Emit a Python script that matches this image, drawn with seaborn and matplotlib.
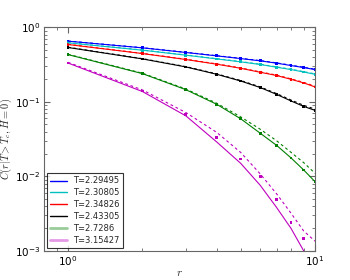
import numpy as np
import pandas as pd
import matplotlib
matplotlib.use("Agg")
import matplotlib.pyplot as plt
from matplotlib.lines import Line2D
import seaborn as sns

# distances
r = [1, 2, 3, 4, 5, 6, 7, 8, 9, 10]

temps = ["T=2.29495", "T=2.30805", "T=2.34826", "T=2.43305", "T=2.7286", "T=3.15427"]
colors = ["#0000ff", "#00bfbf", "#ff0000", "#000000", "#008000", "#bf00bf"]

# solid: fit
fit_229 = [0.654, 0.532, 0.461, 0.415, 0.382, 0.356, 0.331, 0.308, 0.289, 0.272]
fit_230 = [0.621, 0.495, 0.424, 0.378, 0.345, 0.318, 0.292, 0.272, 0.252, 0.235]
fit_234 = [0.590, 0.446, 0.371, 0.321, 0.283, 0.250, 0.226, 0.201, 0.180, 0.159]
fit_243 = [0.538, 0.378, 0.295, 0.235, 0.191, 0.156, 0.126, 0.103, 0.087, 0.077]
fit_272 = [0.432, 0.240, 0.146, 0.093, 0.0594, 0.038, 0.026, 0.0177, 0.0122, 0.0085]
fit_315 = [0.333, 0.138, 0.065, 0.029, 0.0150, 0.0076, 0.0038, 0.0020, 0.00100, 0.00045]

# dashed: approximation
dash_229 = [0.658, 0.535, 0.464, 0.418, 0.385, 0.359, 0.334, 0.311, 0.292, 0.275]
dash_230 = [0.625, 0.498, 0.427, 0.381, 0.348, 0.321, 0.295, 0.275, 0.255, 0.238]
dash_234 = [0.594, 0.449, 0.374, 0.324, 0.286, 0.253, 0.229, 0.204, 0.183, 0.162]
dash_243 = [0.542, 0.381, 0.298, 0.238, 0.194, 0.159, 0.129, 0.106, 0.090, 0.080]
dash_272 = [0.436, 0.243, 0.149, 0.096, 0.063, 0.043, 0.030, 0.021, 0.0153, 0.011]
dash_315 = [0.340, 0.145, 0.072, 0.039, 0.021, 0.0108, 0.0058, 0.0032, 0.00185, 0.00135]

# points: simulation data
pts_229 = [0.654, 0.532, 0.461, 0.415, 0.382, 0.356, 0.331, 0.308, 0.289, 0.272]
pts_230 = [0.621, 0.495, 0.424, 0.378, 0.345, 0.318, 0.292, 0.272, 0.252, 0.235]
pts_234 = [0.590, 0.446, 0.371, 0.321, 0.283, 0.250, 0.226, 0.201, 0.180, 0.159]
pts_243 = [0.538, 0.378, 0.295, 0.235, 0.191, 0.156, 0.126, 0.103, 0.087, 0.077]
pts_272 = [0.432, 0.240, 0.146, 0.093, 0.0594, 0.038, 0.026, 0.0177, 0.0122, 0.0085]
pts_315 = [0.333, 0.140, 0.068, 0.033, 0.0171, 0.0099, 0.00485, 0.0024, 0.00146, 0.0009]

fits = [fit_229, fit_230, fit_234, fit_243, fit_272, fit_315]
dashes = [dash_229, dash_230, dash_234, dash_243, dash_272, dash_315]
points = [pts_229, pts_230, pts_234, pts_243, pts_272, pts_315]

sns.set_style("ticks")
plt.rcParams.update({
    "font.family": ["DejaVu Sans"],
    "font.size": 7.5,
    "xtick.direction": "in",
    "ytick.direction": "in",
    "xtick.top": True,
    "ytick.right": True,
    "xtick.major.size": 4,
    "ytick.major.size": 4,
    "xtick.minor.size": 2,
    "ytick.minor.size": 2,
    "xtick.major.pad": 2.5,
    "ytick.major.pad": 2.5,
    "xtick.color": "0.4",
    "ytick.color": "0.4",
    "xtick.labelcolor": "black",
    "ytick.labelcolor": "black",
    "axes.edgecolor": "0.4",
    "mathtext.fontset": "cm",
})

fig = plt.figure(figsize=(3.5, 2.8), dpi=100)
ax = fig.add_axes([0.126, 0.104, 0.774, 0.798])

for name, c, f, d, p in zip(temps, colors, fits, dashes, points):
    df = pd.DataFrame({"r": r, "fit": f, "dash": d, "pts": p})
    sns.lineplot(data=df, x="r", y="fit", color=c, lw=0.8, ax=ax)
    sns.lineplot(data=df, x="r", y="dash", color=c, lw=0.8, ax=ax,
                 linestyle=(0, (2.5, 2.5)))
    sns.scatterplot(data=df, x="r", y="pts", color=c, s=4, marker="s",
                    edgecolor="none", ax=ax)

ax.set_xscale("log")
ax.set_yscale("log")
ax.set_xlim(0.8, 10)
ax.set_ylim(1e-3, 1)
ax.tick_params(labelsize=7.5)
ax.set_xlabel("$r$", fontsize=8, labelpad=0)
ax.set_ylabel("$C(r|T>T_c,H=0)$", fontsize=7.5, labelpad=1)
for s in ax.spines.values():
    s.set_linewidth(0.8)

# legend handles: last two drawn lighter/thicker like the original
handles = []
for i, c in enumerate(colors):
    if i < 4:
        handles.append(Line2D([0, 1], [0, 0], color=c, lw=1.0))
    else:
        handles.append(Line2D([0, 1], [0, 0], color=c, lw=2, alpha=0.4))

leg = ax.legend(handles=handles, labels=temps, loc="lower left", fontsize=6,
                frameon=True, fancybox=False, edgecolor="black",
                handlelength=2.0, borderpad=0.4, labelspacing=0.35,
                borderaxespad=0.3)
leg.get_frame().set_linewidth(0.8)

fig.savefig("out.png", dpi=100)
